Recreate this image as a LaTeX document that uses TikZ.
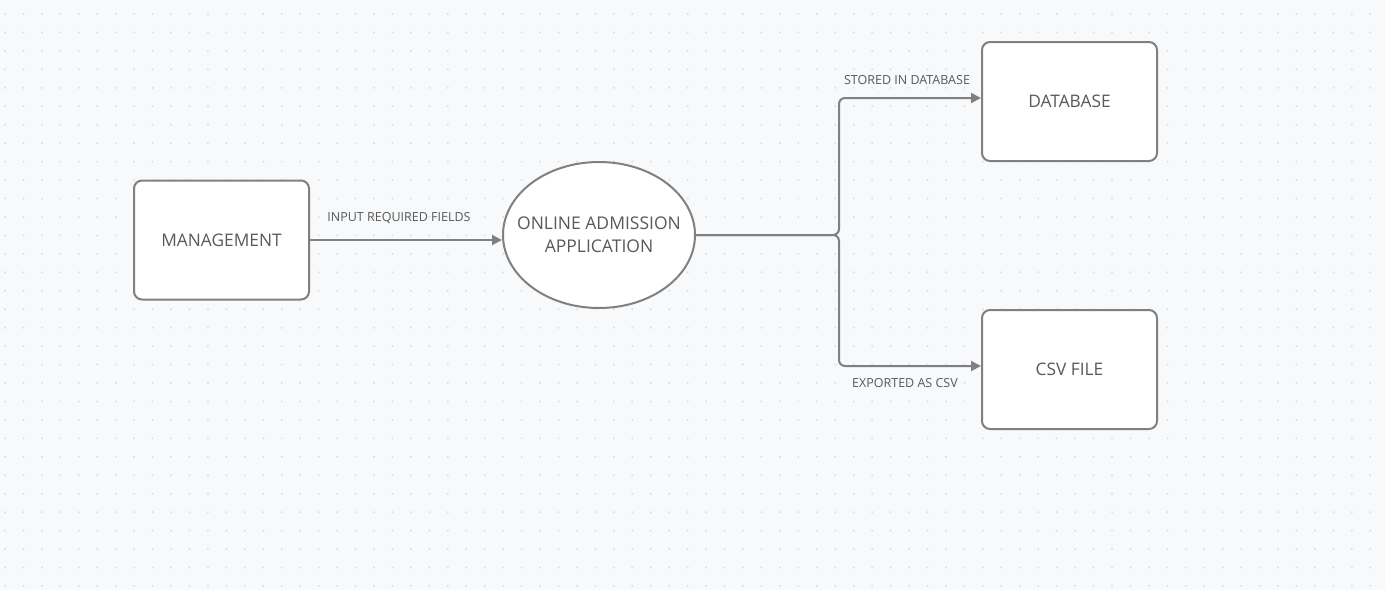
\documentclass[tikz,border=0pt]{standalone}
\usepackage{fontspec}
\setmainfont{Open Sans}
\usetikzlibrary{shapes, arrows.meta}

\definecolor{canvas}{HTML}{F8F9FB}
\definecolor{griddot}{HTML}{DCDDE0}
\definecolor{edge}{HTML}{808080}
\definecolor{ink}{HTML}{595959}

\begin{document}
\begin{tikzpicture}[x=1pt, y=-1pt, auto]

\tikzstyle{entity} = [rectangle, rounded corners=8pt, text centered, draw=edge, line width=2pt, fill=white, minimum width=175pt, minimum height=119pt, text=ink, font=\fontsize{17.3}{22}\selectfont]
\tikzstyle{process} = [ellipse, text centered, draw=edge, line width=2pt, fill=white, minimum width=192pt, minimum height=146pt, inner xsep=-14pt, inner ysep=0pt, text=ink, align=center, font=\fontsize{17.5}{23}\selectfont]
\tikzstyle{flowlabel} = [text=ink, font=\fontsize{12.5}{15}\selectfont, inner sep=2pt]
\tikzstyle{arrow} = [draw=edge, line width=2pt, rounded corners=6pt, -{Triangle[length=10pt, width=10pt]}]

% canvas with dotted grid
\fill[canvas] (0,0) rectangle (1385,590);
\foreach \i in {0,...,74}
  \foreach \j in {0,...,31}
    \fill[griddot] (5+18.45*\i, 14+18.45*\j) circle (1.1pt);

\node (mgmt) [entity] at (221.5,240) {MANAGEMENT};
\node (app) [process] at (599,235) {ONLINE ADMISSION\\APPLICATION};
\node (db) [entity] at (1069.5,101.5) {DATABASE};
\node (csv) [entity] at (1069.5,369.5) {CSV FILE};
\coordinate (split) at (839,235);

\draw [arrow] (mgmt.east) -- (mgmt.east -| app.west)
  node [flowlabel, midway, above=13pt, xshift=-7pt] {INPUT REQUIRED FIELDS};
\draw [arrow] (app.east) -- (split) |- ([yshift=3.5pt]db.west)
  node [flowlabel, pos=0.75, above=10pt, xshift=-3pt] {STORED IN DATABASE};
\draw [arrow] (app.east) -- (split) |- ([yshift=3.5pt]csv.west)
  node [flowlabel, pos=0.75, below=9pt, xshift=-5pt] {EXPORTED AS CSV};
\end{tikzpicture}
\end{document}
